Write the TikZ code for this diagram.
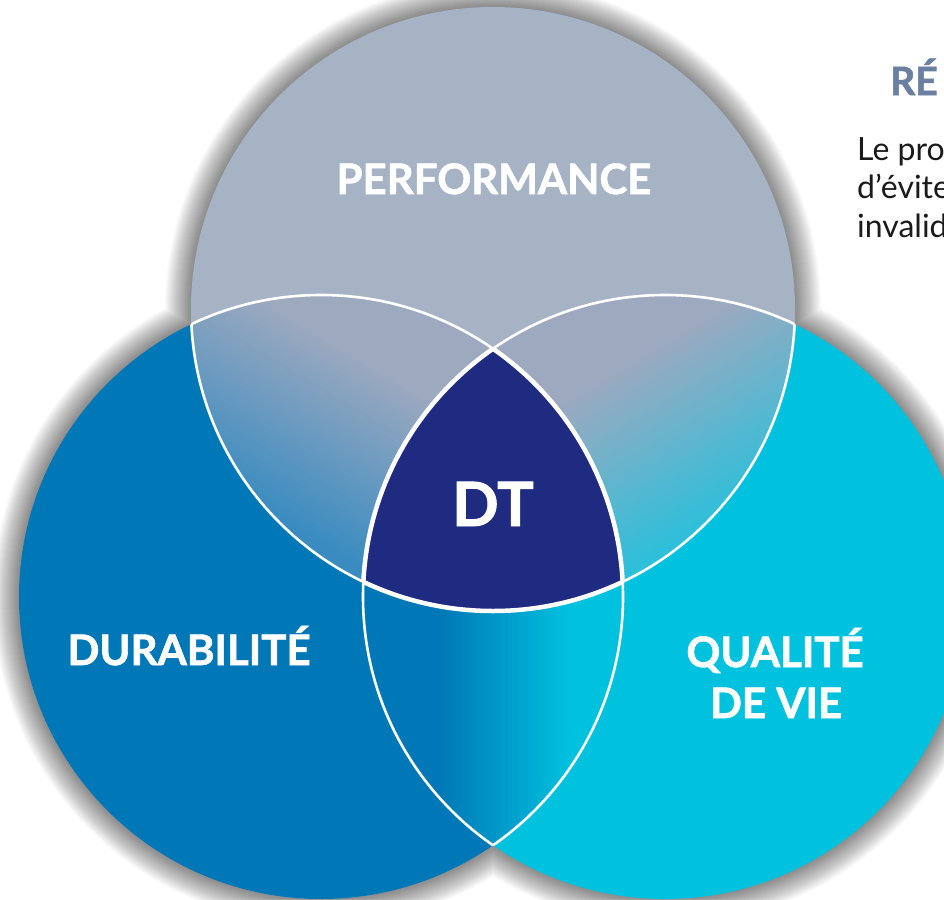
\documentclass[tikz,border=0pt]{standalone}
\usepackage{fontspec}
\setmainfont{Lato}
\newfontfamily\lblfont[BoldFeatures={FakeBold=1.5}]{Lato}
\definecolor{cTop}{HTML}{A5B3C5}
\definecolor{cLeft}{HTML}{0078B7}
\definecolor{cRight}{HTML}{00C1DE}
\definecolor{cDT}{HTML}{1F2B80}
\definecolor{cLensGray}{HTML}{9DA9BF}
\definecolor{cTLblue}{HTML}{3A8CC0}
\definecolor{cTRcyan}{HTML}{2EBFDA}
\definecolor{cTitle}{HTML}{6B7FA0}
\definecolor{cBody}{HTML}{1A1A1A}
\tikzset{
  lbl/.style={text=white, font=\lblfont\bfseries\fontsize{42}{51}\selectfont, anchor=base, inner sep=0pt},
  dtlbl/.style={text=white, font=\lblfont\bfseries\fontsize{61}{63}\selectfont, anchor=base, inner sep=0pt},
  sepline/.style={draw=white, line width=2.6pt},
  dtline/.style={draw=white, line width=4.5pt},
  bodytxt/.style={text=cBody, font=\fontsize{32}{38}\selectfont, anchor=base west, inner sep=0pt},
  titletxt/.style={text=cTitle, font=\lblfont\bfseries\fontsize{39}{42}\selectfont, anchor=base west, inner sep=0pt},
  circR/.style={radius=302pt}
}
% band of a linear gradient: origin (#1,#2), unit direction (#3,#4), from #5 to #6 along it, colour #7
\newcommand\bandfill[7]{%
  \pgfmathsetmacro\bAx{#1+(#3)*(#5)-900*(#4)}%
  \pgfmathsetmacro\bAy{#2+(#4)*(#5)+900*(#3)}%
  \pgfmathsetmacro\bBx{#1+(#3)*(#5)+900*(#4)}%
  \pgfmathsetmacro\bBy{#2+(#4)*(#5)-900*(#3)}%
  \pgfmathsetmacro\bCx{#1+(#3)*(#6)+900*(#4)}%
  \pgfmathsetmacro\bCy{#2+(#4)*(#6)-900*(#3)}%
  \pgfmathsetmacro\bDx{#1+(#3)*(#6)-900*(#4)}%
  \pgfmathsetmacro\bDy{#2+(#4)*(#6)+900*(#3)}%
  \fill[#7] (\bAx,\bAy) -- (\bBx,\bBy) -- (\bCx,\bCy) -- (\bDx,\bDy) -- cycle;
}
\begin{document}
\begin{tikzpicture}[x=1pt,y=-1pt]
\useasboundingbox (0,0) rectangle (944,899);
\clip (0,0) rectangle (944,899);
\fill[white] (0,0) rectangle (944,899);
\coordinate (T) at (493,309);
\coordinate (L) at (321,597);
\coordinate (R) at (665,597);
% soft shadow
\foreach \k in {1,...,26}{
  \pgfmathsetmacro\rr{302+\k}
  \fill[black, opacity=0.019] (T) circle[radius=\rr pt] (L) circle[radius=\rr pt] (R) circle[radius=\rr pt];
}
% circles
\fill[cTop] (T) circle[circR];
\fill[cLeft] (L) circle[circR];
\fill[cRight] (R) circle[circR];
% top-left lens
\begin{scope}
  \clip (T) circle[circR];
  \clip (L) circle[circR];
  \fill[cLensGray] (0,0) rectangle (944,899);
  \foreach \i in {0,...,39}{
    \pgfmathsetmacro\pa{110+4.5*\i}
    \pgfmathsetmacro\pb{110+4.5*(\i+1)+1}
    \pgfmathsetmacro\mx{100*(\i+0.5)/40}
    \bandfill{493}{309}{-0.513}{0.858}{\pa}{\pb}{cTLblue!\mx!cLensGray}
  }
  \bandfill{493}{309}{-0.513}{0.858}{290}{900}{cTLblue}
\end{scope}
% top-right lens
\begin{scope}
  \clip (T) circle[circR];
  \clip (R) circle[circR];
  \fill[cLensGray] (0,0) rectangle (944,899);
  \foreach \i in {0,...,39}{
    \pgfmathsetmacro\pa{115+4.5*\i}
    \pgfmathsetmacro\pb{115+4.5*(\i+1)+1}
    \pgfmathsetmacro\mx{100*(\i+0.5)/40}
    \bandfill{493}{309}{0.513}{0.858}{\pa}{\pb}{cTRcyan!\mx!cLensGray}
  }
  \bandfill{493}{309}{0.513}{0.858}{295}{900}{cTRcyan}
\end{scope}
% bottom lens
\begin{scope}
  \clip (L) circle[circR];
  \clip (R) circle[circR];
  \fill[cLeft] (0,0) rectangle (944,899);
  \foreach \i in {0,...,39}{
    \pgfmathsetmacro\pa{3.25*\i}
    \pgfmathsetmacro\pb{3.25*(\i+1)+1}
    \pgfmathsetmacro\mx{100*(\i+0.5)/40}
    \bandfill{440}{597}{1}{0}{\pa}{\pb}{cRight!\mx!cLeft}
  }
  \bandfill{440}{597}{1}{0}{130}{900}{cRight}
\end{scope}
% centre
\begin{scope}
  \clip (T) circle[circR];
  \clip (L) circle[circR];
  \fill[cDT] (R) circle[circR];
\end{scope}
% white separators inside overlaps
\foreach \A/\B in {T/L, T/R, L/T, L/R, R/T, R/L}{
  \begin{scope}
    \clip (\B) circle[circR];
    \draw[sepline] (\A) circle[circR];
  \end{scope}
}
\foreach \A/\B/\C in {T/L/R, L/T/R, R/T/L}{
  \begin{scope}
    \clip (\B) circle[circR];
    \clip (\C) circle[circR];
    \draw[dtline] (\A) circle[circR];
  \end{scope}
}
% labels
\node[lbl] (perf) at (494,194) {PERFORMANCE};
\node[dtlbl] (dt) at (493,526) {DT};
\node[lbl] (dura) at (189,665) {DURABILITÉ};
\node[lbl] (qual) at (775,667) {QUALITÉ};
\node[lbl] (devie) at (776,718) {DE VIE};
% side text (cut by the page edge)
\node[titletxt] (rtitle) at (890,95) {RÉ};
\node[bodytxt] (l1) at (857,160) {Le pro};
\node[bodytxt] (l2) at (857,198) {d’évite};
\node[bodytxt] (l3) at (857,237) {invalid};
\end{tikzpicture}
\end{document}
